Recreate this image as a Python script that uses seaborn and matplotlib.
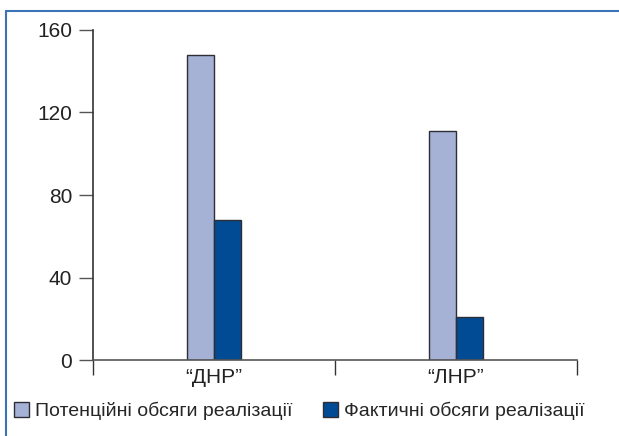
import pandas as pd
import matplotlib.pyplot as plt
from matplotlib.lines import Line2D
from matplotlib.patches import Patch
import seaborn as sns

regions = ['“ДНР”', '“ЛНР”']
series_names = ['Потенційні обсяги реалізації', 'Фактичні обсяги реалізації']
potential = [148, 111]
actual = [68, 21]
y_ticks = [0, 40, 80, 120, 160]

light = '#a5b1d5'
dark = '#004b93'
frame_blue = '#3a74b4'

df = pd.DataFrame({
    'region': regions * 2,
    'series': [series_names[0]] * 2 + [series_names[1]] * 2,
    'value': potential + actual,
})

sns.set_style('white')
plt.rcParams['font.family'] = ['Liberation Sans', 'DejaVu Sans']

fig = plt.figure(figsize=(6.19, 4.36), dpi=100)
ax = fig.add_axes([0.1502, 0.1743, 0.7819, 0.7569])

sns.barplot(data=df, x='region', y='value', hue='series', palette=[light, dark],
            width=0.22, edgecolor='#2e2e36', linewidth=1.0, saturation=1, ax=ax)
ax.get_legend().remove()

ax.set_xlim(-0.5, 1.5)
ax.set_ylim(0, 160)
ax.set_xlabel('')
ax.set_ylabel('')
ax.set_yticks(y_ticks)
ax.set_yticklabels([str(t) for t in y_ticks], fontsize=15, color='#222222')
ax.tick_params(axis='y', direction='out', length=10, width=1, color='#555555', pad=5, left=True)

# category boundaries as major ticks, labels as minor ticks
ax.set_xticks([-0.5, 0.5, 1.5])
ax.set_xticklabels(['', '', ''])
ax.set_xticks([0, 1], minor=True)
ax.set_xticklabels(regions, minor=True, fontsize=15, color='#222222')
ax.tick_params(axis='x', which='major', direction='out', length=11, width=1, color='#333333', bottom=True)
ax.tick_params(axis='x', which='minor', length=0, pad=6)

for s in ['top', 'right']:
    ax.spines[s].set_visible(False)
ax.spines['left'].set_color('#333333')
ax.spines['left'].set_linewidth(1.2)
ax.spines['bottom'].set_color('#555555')
ax.spines['bottom'].set_linewidth(1.2)

handles = [Patch(facecolor=light, edgecolor='#2e2e36', linewidth=1.0),
           Patch(facecolor=dark, edgecolor='#2e2e36', linewidth=1.0)]
fig.legend(handles, series_names, loc='center left', bbox_to_anchor=(-0.005, 0.057),
           ncol=2, frameon=False, handlelength=0.75, handleheight=0.75, handletextpad=0.3,
           columnspacing=1.6, prop={'family': 'Liberation Sans', 'size': 14})

# blue frame on left and top
fig.add_artist(Line2D([0.01, 0.01], [0, 0.975], transform=fig.transFigure, color=frame_blue, lw=1.5))
fig.add_artist(Line2D([0.01, 1.0], [0.975, 0.975], transform=fig.transFigure, color=frame_blue, lw=1.5))

fig.savefig('out.png', dpi=100)
plt.close(fig)
